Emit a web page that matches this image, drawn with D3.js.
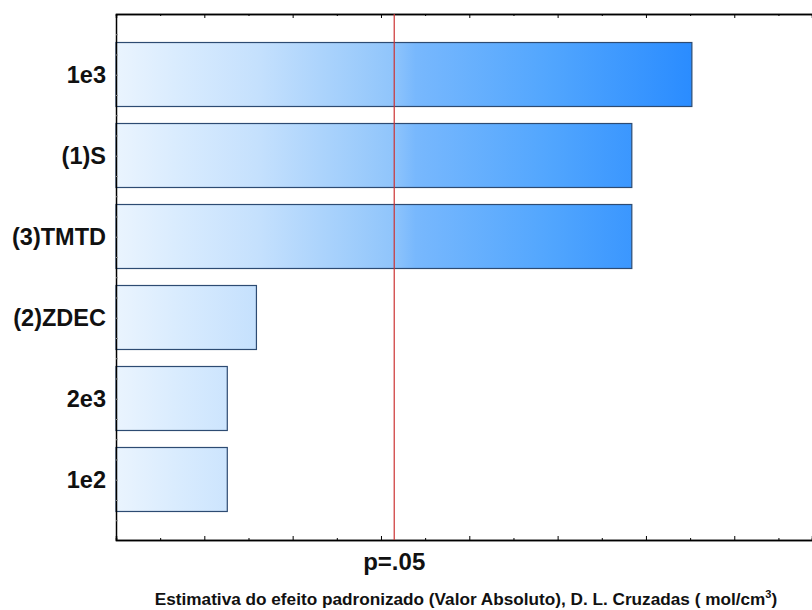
<!DOCTYPE html>
<html>
<head>
<meta charset="utf-8">
<script src="https://cdn.jsdelivr.net/npm/d3@7"></script>
<style>
  body { margin: 0; background: #fff; }
  text { font-family: Arial, "Liberation Sans", sans-serif; font-weight: bold; }
</style>
</head>
<body>
<script>
// data
const effects = ["1e3", "(1)S", "(3)TMTD", "(2)ZDEC", "2e3", "1e2"];
const values = [6.52, 5.84, 5.84, 1.59, 1.26, 1.26];
const pCrit = 3.15;
const pLabel = "p=.05";
const xTicks = [0, 1, 2, 3, 4, 5, 6, 7];

const width = 812, height = 610;
const plotLeft = 116, plotRight = 812, plotTop = 14, plotBottom = 540;

const svg = d3.select("body").append("svg")
    .attr("width", width)
    .attr("height", height);

const xScale = d3.scaleLinear()
    .domain([0, 7.88])
    .range([plotLeft, plotRight]);

const yScale = d3.scaleBand()
    .domain(effects)
    .range([plotTop, plotBottom])
    .paddingInner(0.21)
    .paddingOuter(0.352);

// gradient across the plot
const grad = svg.append("defs").append("linearGradient")
    .attr("id", "barGrad")
    .attr("gradientUnits", "userSpaceOnUse")
    .attr("x1", xScale(0)).attr("x2", xScale(6.52))
    .attr("y1", 0).attr("y2", 0);
[[0, "#eaf4fe"], [0.1, "#daecfe"], [0.25, "#c4e0fd"], [0.48, "#90c5fb"], [0.52, "#78b8fd"],
 [0.75, "#52a6fe"], [1, "#2a8cff"]].forEach(s => {
    grad.append("stop").attr("offset", s[0]).attr("stop-color", s[1]);
});

//Bars
svg.selectAll("rect.bar")
    .data(effects)
    .enter()
    .append("rect")
    .attr("class", "bar")
    .attr("x", xScale(0))
    .attr("y", d => yScale(d))
    .attr("width", (d, i) => xScale(values[i]) - xScale(0))
    .attr("height", yScale.bandwidth())
    .attr("fill", "url(#barGrad)")
    .attr("stroke", "#2d4b72")
    .attr("stroke-width", 1.2);

// axes, ticks pointing inward, no labels
const minor = d3.range(0.5, 7.88, 1);
const topAxis = d3.axisBottom(xScale).tickValues(xTicks.slice(1)).tickSize(4).tickFormat("");
const topMinor = d3.axisBottom(xScale).tickValues(minor).tickSize(2).tickFormat("");
const botAxis = d3.axisTop(xScale).tickValues(xTicks.slice(1)).tickSize(4).tickFormat("");
const botMinor = d3.axisTop(xScale).tickValues(minor).tickSize(2).tickFormat("");

[[topAxis, plotTop], [topMinor, plotTop], [botAxis, plotBottom], [botMinor, plotBottom]].forEach(([ax, y]) => {
    const g = svg.append("g")
        .attr("transform", "translate(0," + y + ")")
        .call(ax);
    g.select(".domain").attr("stroke", "#000").attr("stroke-width", 1.5);
});

// left axis with small inward ticks
const step = yScale.step();
const yTickPos = d3.range(plotTop + step * 0.25, plotBottom, step / 4);
const yTickScale = d3.scaleLinear().domain([plotTop, plotBottom]).range([plotTop, plotBottom]);
const leftG = svg.append("g")
    .attr("transform", "translate(" + plotLeft + ",0)")
    .call(d3.axisRight(yTickScale).tickValues(yTickPos).tickSize(2).tickFormat("").tickSizeOuter(0));
leftG.select(".domain").attr("stroke", "#000").attr("stroke-width", 1.5);
leftG.selectAll(".tick line").attr("stroke", "#888");

// category labels
svg.selectAll("text.cat")
    .data(effects)
    .enter()
    .append("text")
    .attr("class", "cat")
    .attr("x", 106)
    .attr("y", d => yScale(d) + yScale.bandwidth() / 2)
    .attr("dy", "0.36em")
    .attr("text-anchor", "end")
    .attr("font-size", 23.5)
    .attr("fill", "#111")
    .text(d => d);

// p=.05 line
svg.append("line")
    .attr("x1", xScale(pCrit)).attr("x2", xScale(pCrit))
    .attr("y1", plotTop).attr("y2", plotBottom)
    .attr("stroke", "#cc3333")
    .attr("stroke-width", 1.2);

svg.append("text")
    .attr("x", xScale(pCrit))
    .attr("y", 570)
    .attr("text-anchor", "middle")
    .attr("font-size", 24)
    .attr("fill", "#111")
    .text(pLabel);

// axis title
const title = svg.append("text")
    .attr("x", 466)
    .attr("y", 605)
    .attr("text-anchor", "middle")
    .attr("font-size", 17.2)
    .attr("fill", "#111");
title.append("tspan").text("Estimativa do efeito padronizado (Valor Absoluto), D. L. Cruzadas ( mol/cm");
title.append("tspan").attr("dy", -7).attr("font-size", 11).text("3");
title.append("tspan").attr("dy", 7).text(")");
</script>
</body>
</html>
